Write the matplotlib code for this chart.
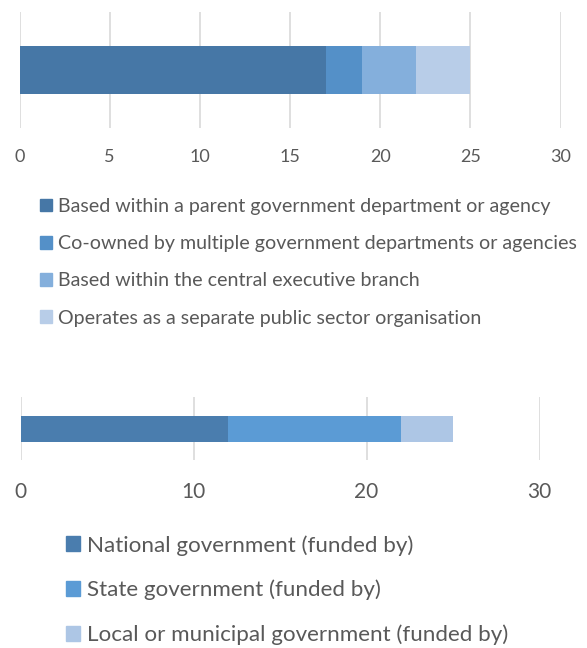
import matplotlib.pyplot as plt
from matplotlib.patches import Patch

plt.rcParams['font.family'] = ['Lato', 'DejaVu Sans']

# top chart: organisational setting
org_labels = ['Based within a parent government department or agency',
              'Co-owned by multiple government departments or agencies',
              'Based within the central executive branch',
              'Operates as a separate public sector organisation']
org_values = [17, 2, 3, 3]
org_colors = ['#4677A6', '#5490C8', '#84AFDC', '#B8CDE8']
org_ticks = [0, 5, 10, 15, 20, 25, 30]

# bottom chart: funding source
fund_labels = ['National government (funded by)',
               'State government (funded by)',
               'Local or municipal government (funded by)']
fund_values = [12, 10, 3]
fund_colors = ['#4A7DAE', '#5B9BD5', '#ADC6E5']
fund_ticks = [0, 10, 20, 30]

W, H = 587, 648
fig = plt.figure(figsize=(W / 100, H / 100), dpi=100)
txt = '#595959'


def px_axes(x0, x1, y0, y1):
    return fig.add_axes([x0 / W, 1 - y1 / H, (x1 - x0) / W, (y1 - y0) / H])


def stacked(ax, values, colors, labels, ticks, height, fs):
    left = 0
    for v, c, lab in zip(values, colors, labels):
        ax.barh(0, v, left=left, color=c, height=height, label=lab)
        left += v
    ax.set_xlim(ticks[0], ticks[-1])
    ax.set_ylim(-0.5, 0.5)
    ax.set_xticks(ticks)
    ax.set_yticks([])
    ax.grid(axis='x', color='#D9D9D9', linewidth=1.2)
    ax.set_axisbelow(True)
    for s in ax.spines.values():
        s.set_visible(False)
    ax.tick_params(axis='x', length=0, labelsize=fs, labelcolor=txt, pad=0)


ax1 = px_axes(19.5, 560.5, 12, 128)
stacked(ax1, org_values, org_colors, org_labels, org_ticks, 48 / 116, 13)
for t in ax1.get_xticklabels():
    t.set_y(-0.18)

ax2 = px_axes(20.5, 539.5, 397, 460)
stacked(ax2, fund_values, fund_colors, fund_labels, fund_ticks, 26 / 63, 15)
for t in ax2.get_xticklabels():
    t.set_y(-0.35)

h1 = [Patch(color=c) for c in org_colors]
fig.legend(h1, org_labels, loc='upper left', bbox_to_anchor=(40 / W, 1 - 198 / H),
           frameon=False, fontsize=14.1, labelcolor=txt, handlelength=0.62,
           handleheight=0.62, handletextpad=0.3, labelspacing=1.03,
           borderpad=0, borderaxespad=0)

h2 = [Patch(color=c) for c in fund_colors]
fig.legend(h2, fund_labels, loc='upper left', bbox_to_anchor=(66 / W, 1 - 535 / H),
           frameon=False, fontsize=16.1, labelcolor=txt, handlelength=0.63,
           handleheight=0.63, handletextpad=0.3, labelspacing=1.08,
           borderpad=0, borderaxespad=0)

fig.savefig('out.png', dpi=100)
